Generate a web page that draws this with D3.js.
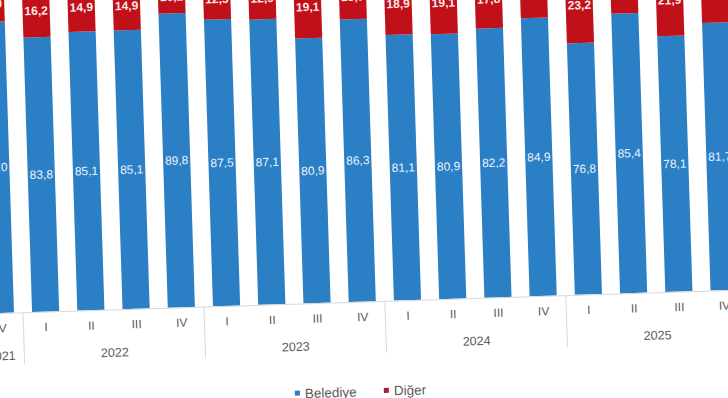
<!DOCTYPE html>
<html>
<head>
<meta charset="utf-8">
<script src="https://cdn.jsdelivr.net/npm/d3@7"></script>
<style>
  html, body { margin: 0; padding: 0; background: #fff; }
  svg { display: block; font-family: "Liberation Sans", Arial, sans-serif; }
</style>
</head>
<body>
<div id="chart"></div>
<script>
// Çeyrekler (2021 IV - 2025 IV)
const years = ["2021", "2022", "2023", "2024", "2025"];
const yearQuarters = [["IV"], ["I", "II", "III", "IV"], ["I", "II", "III", "IV"], ["I", "II", "III", "IV"], ["I", "II", "III", "IV"]];
const belediye = [89.0, 83.8, 85.1, 85.1, 89.8, 87.5, 87.1, 80.9, 86.3, 81.1, 80.9, 82.2, 84.9, 76.8, 85.4, 78.1, 81.7];
const diger = [11.0, 16.2, 14.9, 14.9, 10.2, 12.5, 12.9, 19.1, 13.7, 18.9, 19.1, 17.8, 15.1, 23.2, 14.6, 21.9, 18.3];
const seriesNames = ["Belediye", "Diğer"];

const width = 728, height = 398;
const baseY = 301.5;
const colors = { blue: "#2b7fc5", red: "#c0111b", redLegend: "#9b2335", text: "#595959", axis: "#d9d9d9" };

// kategori anahtarları
const keys = [];
years.forEach((y, i) => yearQuarters[i].forEach(q => keys.push(y + "-" + q)));
const rows = keys.map((k, i) => ({ key: k, quarter: k.split("-")[1], Belediye: belediye[i], "Diğer": diger[i] }));

const svg = d3.select("#chart").append("svg")
    .attr("width", width)
    .attr("height", height);

// resim hafif eğik çekilmiş
const g = svg.append("g").attr("transform", `rotate(-1.81, 364, ${baseY})`);

const x = d3.scaleBand()
    .domain(keys)
    .range([-22.4, 746.9])
    .paddingInner(0.4)
    .paddingOuter(0.2);

const y = d3.scaleLinear().domain([0, 100]).range([baseY, -26]);

const stack = d3.stack().keys(seriesNames)(rows);
const fill = { "Belediye": colors.blue, "Diğer": colors.red };

const layers = g.selectAll("g.layer")
    .data(stack)
    .enter().append("g")
    .attr("class", "layer")
    .attr("fill", d => fill[d.key]);

layers.selectAll("rect")
    .data(d => d)
    .enter().append("rect")
    .attr("x", d => x(d.data.key))
    .attr("width", x.bandwidth())
    .attr("y", d => y(d[1]))
    .attr("height", d => y(d[0]) - y(d[1]));

// değer etiketleri
layers.selectAll("text")
    .data(d => d.map(v => Object.assign({ series: d.key }, v)))
    .enter().append("text")
    .attr("x", d => x(d.data.key) + x.bandwidth() / 2)
    .attr("y", d => (y(d[0]) + y(d[1])) / 2)
    .attr("dy", "0.35em")
    .attr("text-anchor", "middle")
    .attr("fill", d => d.series === "Belediye" ? "#eaf2fb" : "#fbeaea")
    .attr("font-size", 12)
    .attr("font-weight", d => d.series === "Belediye" ? "normal" : "bold")
    .text(d => d3.format(".1f")(d.data[d.series]).replace(".", ","));

// x ekseni
const axis = g.append("g")
    .attr("transform", `translate(0,${baseY})`)
    .call(d3.axisBottom(x).tickSize(0).tickPadding(11).tickFormat(k => k.split("-")[1]));
axis.select(".domain").attr("stroke", colors.axis);
axis.selectAll("text")
    .attr("fill", colors.text)
    .attr("font-size", 12)
    .attr("font-family", "Liberation Sans, Arial, sans-serif");

// yıl grupları
let idx = 0;
const groups = years.map((yr, i) => {
    const first = keys[idx], last = keys[idx + yearQuarters[i].length - 1];
    idx += yearQuarters[i].length;
    return { year: yr, x0: x(first) - x.step() * x.paddingInner() / 2, x1: x(last) + x.bandwidth() + x.step() * x.paddingInner() / 2 };
});

g.selectAll("line.sep")
    .data(groups)
    .enter().append("line")
    .attr("class", "sep")
    .attr("x1", d => d.x0).attr("x2", d => d.x0)
    .attr("y1", baseY).attr("y2", baseY + 52)
    .attr("stroke", colors.axis);

g.selectAll("text.year")
    .data(groups)
    .enter().append("text")
    .attr("class", "year")
    .attr("x", d => (d.x0 + d.x1) / 2)
    .attr("y", baseY + 43)
    .attr("dy", "0.35em")
    .attr("text-anchor", "middle")
    .attr("fill", colors.text)
    .attr("font-size", 12.5)
    .text(d => d.year);

// lejant
const legend = g.append("g").attr("transform", `translate(292, ${baseY + 90})`);
const legendItems = [
    { name: seriesNames[0], color: colors.blue, dx: 0 },
    { name: seriesNames[1], color: colors.redLegend, dx: 89 }
];
const li = legend.selectAll("g")
    .data(legendItems)
    .enter().append("g")
    .attr("transform", d => `translate(${d.dx},0)`);
li.append("rect")
    .attr("x", 0).attr("y", -3)
    .attr("width", 5).attr("height", 5)
    .attr("fill", d => d.color);
li.append("text")
    .attr("x", 10)
    .attr("y", 0)
    .attr("dy", "0.35em")
    .attr("fill", colors.text)
    .attr("font-size", 13.5)
    .text(d => d.name);
</script>
</body>
</html>
